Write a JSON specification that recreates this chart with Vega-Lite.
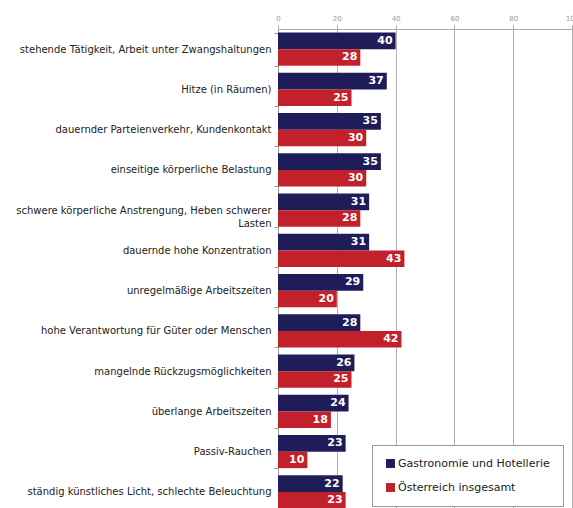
{
  "$schema": "https://vega.github.io/schema/vega-lite/v6.json",
  "width": 294,
  "height": 483,
  "autosize": {"type": "none"},
  "padding": {"left": 278, "top": 29, "right": 1, "bottom": 0},
  "background": "white",
  "config": {"view": {"stroke": null}, "font": "DejaVu Sans"},
  "data": {"values": [
    {"k": "stehende Tätigkeit, Arbeit unter Zwangshaltungen", "g": "Gastronomie und Hotellerie", "v": 40},
    {"k": "stehende Tätigkeit, Arbeit unter Zwangshaltungen", "g": "Österreich insgesamt", "v": 28},
    {"k": "Hitze (in Räumen)", "g": "Gastronomie und Hotellerie", "v": 37},
    {"k": "Hitze (in Räumen)", "g": "Österreich insgesamt", "v": 25},
    {"k": "dauernder Parteienverkehr, Kundenkontakt", "g": "Gastronomie und Hotellerie", "v": 35},
    {"k": "dauernder Parteienverkehr, Kundenkontakt", "g": "Österreich insgesamt", "v": 30},
    {"k": "einseitige körperliche Belastung", "g": "Gastronomie und Hotellerie", "v": 35},
    {"k": "einseitige körperliche Belastung", "g": "Österreich insgesamt", "v": 30},
    {"k": "schwere körperliche Anstrengung, Heben schwerer|Lasten", "g": "Gastronomie und Hotellerie", "v": 31},
    {"k": "schwere körperliche Anstrengung, Heben schwerer|Lasten", "g": "Österreich insgesamt", "v": 28},
    {"k": "dauernde hohe Konzentration", "g": "Gastronomie und Hotellerie", "v": 31},
    {"k": "dauernde hohe Konzentration", "g": "Österreich insgesamt", "v": 43},
    {"k": "unregelmäßige Arbeitszeiten", "g": "Gastronomie und Hotellerie", "v": 29},
    {"k": "unregelmäßige Arbeitszeiten", "g": "Österreich insgesamt", "v": 20},
    {"k": "hohe Verantwortung für Güter oder Menschen", "g": "Gastronomie und Hotellerie", "v": 28},
    {"k": "hohe Verantwortung für Güter oder Menschen", "g": "Österreich insgesamt", "v": 42},
    {"k": "mangelnde Rückzugsmöglichkeiten", "g": "Gastronomie und Hotellerie", "v": 26},
    {"k": "mangelnde Rückzugsmöglichkeiten", "g": "Österreich insgesamt", "v": 25},
    {"k": "überlange Arbeitszeiten", "g": "Gastronomie und Hotellerie", "v": 24},
    {"k": "überlange Arbeitszeiten", "g": "Österreich insgesamt", "v": 18},
    {"k": "Passiv-Rauchen", "g": "Gastronomie und Hotellerie", "v": 23},
    {"k": "Passiv-Rauchen", "g": "Österreich insgesamt", "v": 10},
    {"k": "ständig künstliches Licht, schlechte Beleuchtung", "g": "Gastronomie und Hotellerie", "v": 22},
    {"k": "ständig künstliches Licht, schlechte Beleuchtung", "g": "Österreich insgesamt", "v": 23}
  ]},
  "encoding": {
    "y": {
      "field": "k", "type": "nominal", "sort": null,
      "scale": {"paddingInner": 0.18, "paddingOuter": 0.09},
      "axis": {
        "title": null,
        "labelExpr": "split(datum.label, '|')",
        "labelFontSize": 10,
        "labelColor": "#222222",
        "labelPadding": 3,
        "labelLimit": 300,
        "labelLineHeight": 13,
        "domainColor": "#999999",
        "tickColor": "#999999",
        "tickBand": "extent",
        "tickSize": 4,
        "grid": false
      }
    },
    "yOffset": {"field": "g", "type": "nominal", "scale": {"paddingInner": 0}},
    "x": {
      "field": "v", "type": "quantitative",
      "scale": {"domain": [0, 100], "nice": false},
      "axis": {
        "orient": "top",
        "title": null,
        "values": [0, 20, 40, 60, 80, 100],
        "labelFontSize": 7,
        "labelColor": "#999999",
        "labelPadding": 4,
        "labelFlush": false,
        "labelOverlap": false,
        "labelBound": false,
        "domainColor": "#aaaaaa",
        "tickColor": "#aaaaaa",
        "tickSize": 4,
        "gridColor": "#b0b0b0",
        "gridWidth": 1,
        "grid": true
      }
    }
  },
  "layer": [
    {
      "mark": {"type": "bar"},
      "encoding": {
        "color": {
          "field": "g", "type": "nominal",
          "scale": {"domain": ["Gastronomie und Hotellerie", "Österreich insgesamt"], "range": ["#1f1c5a", "#c2202a"]},
          "legend": {
            "title": null,
            "orient": "none",
            "legendX": 94,
            "legendY": 416,
            "fillColor": "white",
            "strokeColor": "#999999",
            "padding": 13,
            "symbolType": "square",
            "symbolSize": 80,
            "symbolStrokeWidth": 0,
            "symbolOpacity": 1,
            "labelFontSize": 11,
            "labelColor": "#222222",
            "rowPadding": 12,
            "labelOffset": 2
          }
        }
      }
    },
    {
      "mark": {"type": "text", "align": "right", "dx": -3, "color": "white", "fontWeight": "bold", "fontSize": 11, "baseline": "middle"},
      "encoding": {"text": {"field": "v", "type": "quantitative"}}
    }
  ]
}
